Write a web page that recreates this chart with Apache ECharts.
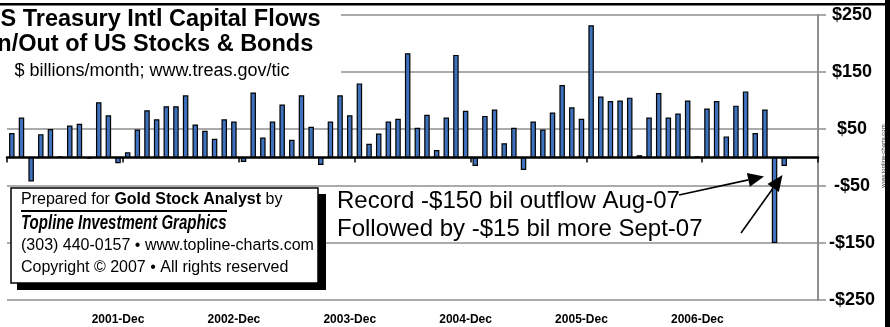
<!DOCTYPE html>
<html>
<head>
<meta charset="utf-8">
<script src="https://cdn.jsdelivr.net/npm/echarts@6/dist/echarts.min.js"></script>
<style>html,body{margin:0;padding:0;background:#fff;}#c{width:890px;height:327px;}</style>
</head>
<body>
<div id="c"></div>
<script>
// ---- data ----
const years = [2001, 2002, 2003, 2004, 2005, 2006, 2007];
const months = ['Jan','Feb','Mar','Apr','May','Jun','Jul','Aug','Sep','Oct','Nov','Dec'];
const categories = [];
years.forEach(y => months.forEach(m => categories.push(y + '-' + m)));

const flows2001 = [43, 70, -42, 41, 50, 2, 56, 59, -2, 97, 74, -10];
const flows2002 = [9, 49, 83, 67, 90, 90, 109, 58, 47, 33, 67, 63];
const flows2003 = [-8, 114, 35, 63, 93, 31, 109, 54, -13, 63, 109, 74];
const flows2004 = [130, 24, 42, 63, 68, 183, 52, 75, 13, 70, 180, 82];
const flows2005 = [-15, 73, 84, 25, 52, -22, 63, 49, 79, 127, 88, 68];
const flows2006 = [232, 107, 99, 100, 105, 4, 70, 113, 70, 77, 100, 2];
const flows2007 = [86, 99, 37, 91, 116, 43, 84, -150, -15, null, null, null];
const flows = [].concat(flows2001, flows2002, flows2003, flows2004, flows2005, flows2006, flows2007);

const tickLabels = ['2001-Dec','2002-Dec','2003-Dec','2004-Dec','2005-Dec','2006-Dec'];
const yMin = -250, yMax = 250, yStep = 100;

// ---- helpers ----
const F = "'Liberation Sans', Arial, Helvetica, sans-serif";
const GRID_GRAY = '#8f8f8f';

function arrow(x1, y1, x2, y2) {
  const ang = Math.atan2(y2 - y1, x2 - x1);
  const L = 16, W = 7;
  const bx = x2 - L * Math.cos(ang), by = y2 - L * Math.sin(ang);
  const px = -Math.sin(ang) * W, py = Math.cos(ang) * W;
  return [
    {type:'line', z:60, shape:{x1:x1, y1:y1, x2:bx, y2:by}, style:{stroke:'#000', lineWidth:1.6}},
    {type:'polygon', z:60, shape:{points:[[x2,y2],[bx+px,by+py],[bx-px,by-py]]}, style:{fill:'#000'}}
  ];
}

const chart = echarts.init(document.getElementById('c'), null, {renderer:'canvas'});
const option = {
  animation: false,
  backgroundColor: '#fff',
  grid: {left: 7, right: 72, top: 15, bottom: 27, containLabel: false},
  xAxis: [
    {
      type: 'category', data: categories, position: 'bottom', boundaryGap: true,
      axisLine: {show: false, onZero: false},
      axisTick: {show: false},
      splitLine: {show: false},
      axisLabel: {
        interval: (i, v) => tickLabels.indexOf(v) >= 0,
        margin: 14, color: '#000', fontWeight: 'bold', fontSize: 12, fontFamily: F
      }
    },
    {
      type: 'category', data: categories, position: 'top', boundaryGap: true,
      axisLine: {show: true, onZero: true, lineStyle: {color: '#000', width: 2.5}},
      axisTick: {show: true, interval: 11, inside: true, length: 5, lineStyle: {color: '#000', width: 1.5}},
      axisLabel: {show: false},
      splitLine: {show: false}
    }
  ],
  yAxis: {
    type: 'value', position: 'right', min: yMin, max: yMax, interval: yStep,
    axisLine: {show: true, onZero: false, lineStyle: {color: GRID_GRAY, width: 2}},
    axisTick: {show: true, length: 8, lineStyle: {color: GRID_GRAY, width: 1.5}},
    splitLine: {show: true, lineStyle: {color: GRID_GRAY, width: 1.5}},
    axisLabel: {
      margin: 34, align: 'center', color: '#000', fontWeight: 'bold', fontSize: 18, fontFamily: F,
      formatter: v => (v < 0 ? '-$' + (-v) : '$' + v)
    }
  },
  series: [{
    type: 'bar', xAxisIndex: 0, yAxisIndex: 0, data: flows, barWidth: 5.5,
    itemStyle: {color: '#3f72bd', borderColor: '#000', borderWidth: 1.2},
    z: 3
  }],
  graphic: [
    {type:'rect', z:50, shape:{x:0, y:6, width:341, height:80}, style:{fill:'#fff'}},
    {type:'rect', z:60, shape:{x:0, y:3, width:886, height:2.5}, style:{fill:'#000'}},
    {type:'rect', z:60, shape:{x:885, y:0, width:5, height:327}, style:{fill:'#000'}},
    {type:'text', z:60, x:152, y:20, style:{text:'US Treasury Intl Capital Flows', font:'bold 23.5px ' + F, fill:'#000', align:'center', verticalAlign:'middle'}},
    {type:'text', z:60, x:152, y:45, style:{text:'In/Out of US Stocks & Bonds', font:'bold 23.5px ' + F, fill:'#000', align:'center', verticalAlign:'middle'}},
    {type:'text', z:60, x:152, y:71, style:{text:'$ billions/month; www.treas.gov/tic', font:'18px ' + F, fill:'#000', align:'center', verticalAlign:'middle'}},
    // credit box
    {type:'rect', z:55, shape:{x:17, y:194, width:309, height:96}, style:{fill:'#000'}},
    {type:'rect', z:56, shape:{x:11, y:188, width:307, height:95}, style:{fill:'#fff', stroke:'#000', lineWidth:1.5}},
    {type:'text', z:60, x:21, y:200, style:{
      text:'{r|Prepared for }{b|Gold Stock Analyst}{r| by}', align:'left', verticalAlign:'middle',
      rich:{r:{font:'16px ' + F, fill:'#000'}, b:{font:'bold 16px ' + F, fill:'#000'}}
    }},
    {type:'line', z:60, shape:{x1:21, y1:211, x2:227, y2:211}, style:{stroke:'#000', lineWidth:2}},
    {type:'text', z:60, x:21, y:223, scaleX:0.715, style:{text:'Topline Investment Graphics', font:'italic bold 21px ' + F, fill:'#000', align:'left', verticalAlign:'middle'}},
    {type:'text', z:60, x:21, y:246, style:{text:'(303) 440-0157 \u2022 www.topline-charts.com', font:'16px ' + F, fill:'#000', align:'left', verticalAlign:'middle'}},
    {type:'text', z:60, x:21, y:268, style:{text:'Copyright \u00a9 2007 \u2022 All rights reserved', font:'16px ' + F, fill:'#000', align:'left', verticalAlign:'middle'}},
    // annotation
    {type:'text', z:60, x:337, y:201, style:{text:'Record -$150 bil outflow Aug-07', font:'24px ' + F, fill:'#000', align:'left', verticalAlign:'middle'}},
    {type:'text', z:60, x:337, y:229, style:{text:'Followed by -$15 bil more Sept-07', font:'24px ' + F, fill:'#000', align:'left', verticalAlign:'middle'}},
    ...arrow(679, 195, 764, 176.5),
    ...arrow(741, 233, 782.5, 175),
    {type:'text', z:60, x:883, y:156, rotation: Math.PI / 2, style:{text:'www.topline-charts.com', font:'6px ' + F, fill:'#333', align:'center', verticalAlign:'middle'}}
  ]
};
chart.setOption(option);
</script>
</body>
</html>
